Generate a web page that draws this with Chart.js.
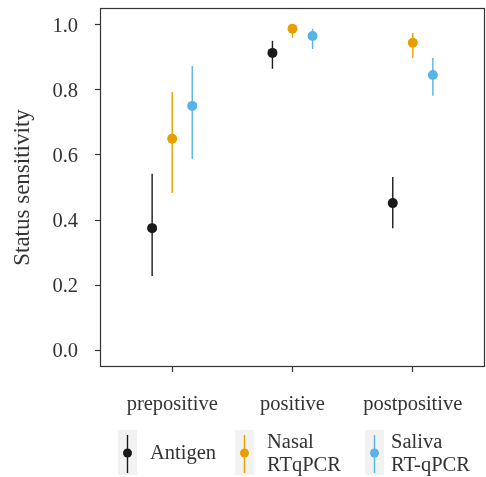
<!DOCTYPE html>
<html><head><meta charset="utf-8">
<script src="https://cdn.jsdelivr.net/npm/chart.js@4/dist/chart.umd.min.js"></script>
<style>html,body{margin:0;padding:0;background:#fff}#wrap{width:486px;height:477px}</style>
</head><body><div id="wrap"><canvas id="c" width="486" height="477"></canvas></div>
<script>
const categories = ["prepositive", "positive", "postpositive"];
const seriesNames = ["Antigen", "Nasal\nRTqPCR", "Saliva\nRT-qPCR"];
const antigenMid = [0.375, 0.914, 0.452];
const antigenLo  = [0.228, 0.865, 0.375];
const antigenHi  = [0.542, 0.951, 0.532];
const nasalMid   = [0.650, 0.988, 0.945];
const nasalLo    = [0.483, 0.960, 0.898];
const nasalHi    = [0.794, 1.000, 0.975];
const salivaMid  = [0.751, 0.966, 0.846];
const salivaLo   = [0.588, 0.926, 0.782];
const salivaHi   = [0.874, 0.988, 0.898];
const yTicks = [0.0, 0.2, 0.4, 0.6, 0.8, 1.0];
const colors = ["#1a1a1a", "#E69F00", "#56B4E9"];
const dodge = [-1/6, 0, 1/6];

const FONT = "'Liberation Serif', 'DejaVu Serif', serif";
const TXT = "#333333";
const FS = 20.5;

const mids = [antigenMid, nasalMid, salivaMid];
const los = [antigenLo, nasalLo, salivaLo];
const his = [antigenHi, nasalHi, salivaHi];

const datasets = mids.map((m, s) => ({
  label: seriesNames[s],
  data: m.map((v, i) => ({x: i + 1 + dodge[s], y: v, lo: los[s][i], hi: his[s][i]})),
  backgroundColor: colors[s],
  borderColor: colors[s],
  pointRadius: 5,
  pointBorderWidth: 0,
  showLine: false
}));

const errPlugin = {
  id: 'err',
  beforeDatasetsDraw(chart) {
    const {ctx, chartArea: a, scales: {x, y}} = chart;
    ctx.save();
    ctx.strokeStyle = TXT;
    ctx.lineWidth = 1.2;
    ctx.strokeRect(a.left + 0.5, a.top + 0.5, a.right - a.left - 1, a.bottom - a.top - 1);
    chart.data.datasets.forEach((ds) => {
      ctx.strokeStyle = ds.borderColor;
      ctx.lineWidth = 1.4;
      ds.data.forEach(p => {
        const px = x.getPixelForValue(p.x);
        ctx.beginPath();
        ctx.moveTo(px, y.getPixelForValue(p.lo));
        ctx.lineTo(px, y.getPixelForValue(p.hi));
        ctx.stroke();
      });
    });
    ctx.restore();
  },
  afterDraw(chart) {
    const {ctx} = chart;
    ctx.save();
    const keyX = [118, 235, 365];
    const textX = [150, 267, 391];
    const keyTop = 430, keyH = 45, keyW = 19;
    ctx.font = FS + "px " + FONT;
    ctx.textBaseline = 'middle';
    ctx.textAlign = 'left';
    chart.data.datasets.forEach((ds, s) => {
      const kx = keyX[s];
      ctx.fillStyle = '#f2f2f2';
      ctx.fillRect(kx, keyTop, keyW, keyH);
      const cx = kx + keyW / 2, cy = keyTop + 23;
      ctx.strokeStyle = ds.borderColor;
      ctx.lineWidth = 1.4;
      ctx.beginPath(); ctx.moveTo(cx, keyTop + 5); ctx.lineTo(cx, keyTop + keyH - 2); ctx.stroke();
      ctx.fillStyle = ds.backgroundColor;
      ctx.beginPath(); ctx.arc(cx, cy, 4.5, 0, Math.PI * 2); ctx.fill();
      ctx.fillStyle = TXT;
      const lines = ds.label.split("\n");
      const tx = textX[s];
      if (lines.length === 1) {
        ctx.fillText(lines[0], tx, cy + 1);
      } else {
        ctx.fillText(lines[0], tx, cy - 10);
        ctx.fillText(lines[1], tx, cy + 13);
      }
    });
    ctx.restore();
  }
};

new Chart(document.getElementById('c'), {
  type: 'scatter',
  data: {datasets},
  options: {
    responsive: false,
    animation: false,
    layout: {autoPadding: false, padding: {top: 8, right: 1, bottom: 60, left: 0}},
    plugins: {legend: {display: false}, tooltip: {enabled: false}},
    scales: {
      x: {
        type: 'linear', min: 0.4, max: 3.6,
        afterBuildTicks: (sc) => { sc.ticks = categories.map((c, i) => ({value: i + 1})); },
        afterFit: (sc) => { sc.height = 50; sc.paddingLeft = 0; sc.paddingRight = 0; },
        ticks: {
          callback: (v) => categories[v - 1],
          font: {family: FONT, size: FS}, color: TXT, padding: 20, maxRotation: 0, autoSkip: false
        },
        grid: {drawOnChartArea: false, tickLength: 5, color: TXT, tickWidth: 1.2},
        border: {display: false}
      },
      y: {
        min: -0.052, max: 1.052,
        afterBuildTicks: (sc) => { sc.ticks = yTicks.map(v => ({value: v})); },
        afterFit: (sc) => { sc.width = 100; sc.paddingTop = 0; sc.paddingBottom = 0; },
        ticks: {
          callback: (v) => v.toFixed(1),
          font: {family: FONT, size: FS}, color: TXT, padding: 17, labelOffset: 2
        },
        grid: {drawOnChartArea: false, tickLength: 5, color: TXT, tickWidth: 1.2},
        border: {display: false},
        title: {display: true, text: 'Status sensitivity', font: {family: FONT, size: 23}, color: TXT, padding: {top: 9, bottom: 0}}
      }
    }
  },
  plugins: [errPlugin]
});
</script></body></html>
